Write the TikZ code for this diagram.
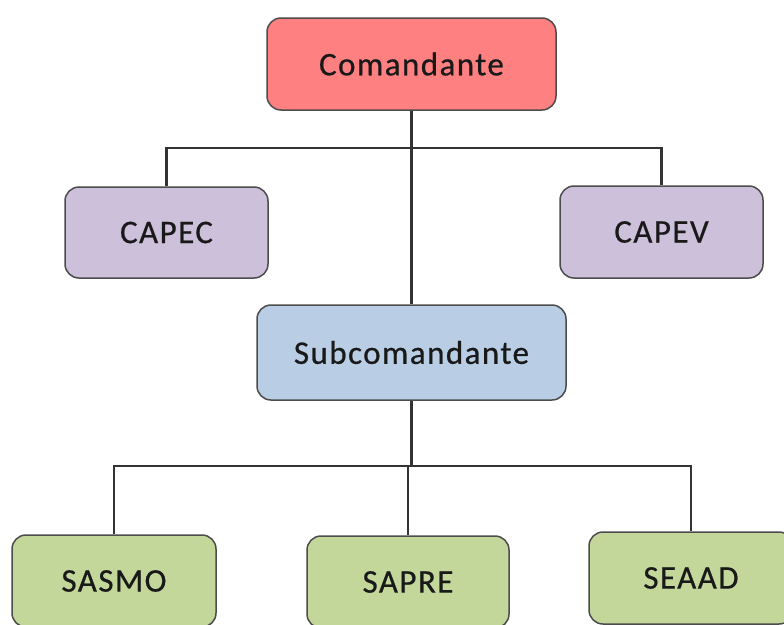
\documentclass[tikz,border=0pt]{standalone}
\usepackage{fontspec}
\setmainfont{Carlito}
\newfontfamily\boxfont[LetterSpace=4.4,FakeBold=0.6]{Carlito}
\begin{document}
\begin{tikzpicture}[x=1pt,y=-1pt,
  box/.style={draw=black!70, line width=1.5pt, rounded corners=14pt,
    inner sep=0pt, font=\boxfont\fontsize{33}{40}\selectfont, text=black!90},
  link/.style={draw=black!80, line width=2.3pt},
  red/.style={box, fill={rgb,255:red,255;green,128;blue,128}},
  lilac/.style={box, fill={rgb,255:red,204;green,192;blue,218}},
  blue/.style={box, fill={rgb,255:red,185;green,205;blue,229}},
  green/.style={box, fill={rgb,255:red,196;green,215;blue,155}}]
\clip (0,0) rectangle (784,624);
\useasboundingbox (0,0) rectangle (784,624);
\fill[white] (0,0) rectangle (784,624);

% organisational boxes
\node[red,   minimum width=289pt, minimum height=92pt] (com)   at (411.5,64)  {Comandante};
\node[lilac, minimum width=203pt, minimum height=91pt] (capec) at (166.5,232.5) {CAPEC};
\node[lilac, minimum width=203pt, minimum height=92pt] (capev) at (661.5,232) {CAPEV};
\node[blue,  minimum width=309pt, minimum height=95pt] (sub)   at (411.5,352.5) {Subcomandante};
\node[green, minimum width=204pt, minimum height=92pt] (sasmo) at (114,581)  {SASMO};
\node[green, minimum width=202pt, minimum height=92pt] (sapre) at (408,582)  {SAPRE};
\node[green, minimum width=204pt, minimum height=92pt] (seaad) at (691,578)  {SEAAD};

% junction points of the two buses
\coordinate (busA) at (411.5,148);
\coordinate (busB) at (411.5,466);

% reporting lines
\draw[link] (com.south) -- (sub.north);
\draw[link] (capec.north) |- (busA) -| (capev.north);
\draw[link] (sub.south) -- (busB);
\draw[link] (sasmo.north) |- (busB) -| (seaad.north);
\draw[link] (sapre.north) -- (sapre.north |- busB);
\end{tikzpicture}
\end{document}
